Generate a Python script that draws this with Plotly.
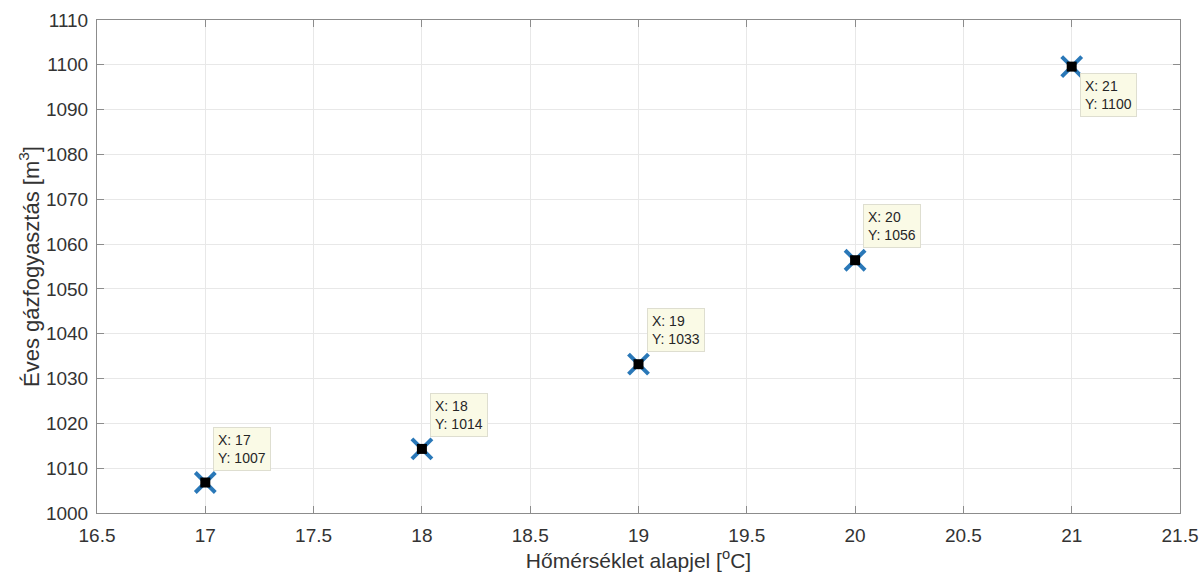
import plotly.graph_objects as go

temps = [17, 18, 19, 20, 21]
gas = [1006.8, 1014.3, 1033.2, 1056.4, 1099.6]
label_y = [1007, 1014, 1033, 1056, 1100]
label_below = [False, False, False, False, True]

x_ticks = [16.5, 17, 17.5, 18, 18.5, 19, 19.5, 20, 20.5, 21, 21.5]
y_ticks = list(range(1000, 1111, 10))

FONT = "Liberation Sans, Arial"

fig = go.Figure()
fig.add_trace(go.Scatter(x=temps, y=gas, mode="markers",
                         marker=dict(symbol="x-thin", size=20,
                                     line=dict(width=4, color="#2a78b8")),
                         hoverinfo="skip", showlegend=False))
fig.add_trace(go.Scatter(x=temps, y=gas, mode="markers",
                         marker=dict(symbol="square", size=10, color="black",
                                     line=dict(width=0)),
                         hoverinfo="skip", showlegend=False))

for t, g, ly, below in zip(temps, gas, label_y, label_below):
    fig.add_annotation(x=t, y=g, xref="x", yref="y",
                       text=f"X: {t}<br>Y: {ly}", showarrow=False,
                       align="left", xanchor="left",
                       yanchor="top" if below else "bottom",
                       xshift=8, yshift=-6 if below else 12,
                       bgcolor="#fafae6", bordercolor="#deded0", borderwidth=1,
                       borderpad=4,
                       font=dict(family=FONT, size=14, color="#262626"))

axis_common = dict(showgrid=True, gridcolor="#e8e8e8", gridwidth=1,
                   showline=True, linecolor="#8c8c8c", linewidth=1, mirror="ticks",
                   ticks="inside", ticklen=7, tickcolor="#8c8c8c",
                   zeroline=False, automargin=False,
                   tickfont=dict(family=FONT, size=19, color="#333333"))

fig.update_xaxes(range=[16.5, 21.5], tickvals=x_ticks,
                 ticktext=[f"{v:g}" for v in x_ticks],
                 title_text="Hőmérséklet alapjel [<sup>o</sup>C]", title_standoff=4,
                 title_font=dict(family=FONT, size=21, color="#333333"),
                 ticklabelstandoff=5,
                 **axis_common)
fig.update_yaxes(range=[1000, 1110], tickvals=y_ticks,
                 ticktext=[str(v) for v in y_ticks],
                 title_text="Éves gázfogyasztás [m<sup>3</sup>]", title_standoff=0,
                 title_font=dict(family=FONT, size=22, color="#333333"),
                 ticklabelstandoff=4,
                 **axis_common)

fig.update_layout(width=1203, height=572, plot_bgcolor="white", paper_bgcolor="white",
                  margin=dict(l=97, r=23, t=20, b=59, autoexpand=False))

fig.write_html("out.html", config={"displayModeBar": False},
               post_script="document.body.style.margin='0';document.body.style.overflow='hidden';")
